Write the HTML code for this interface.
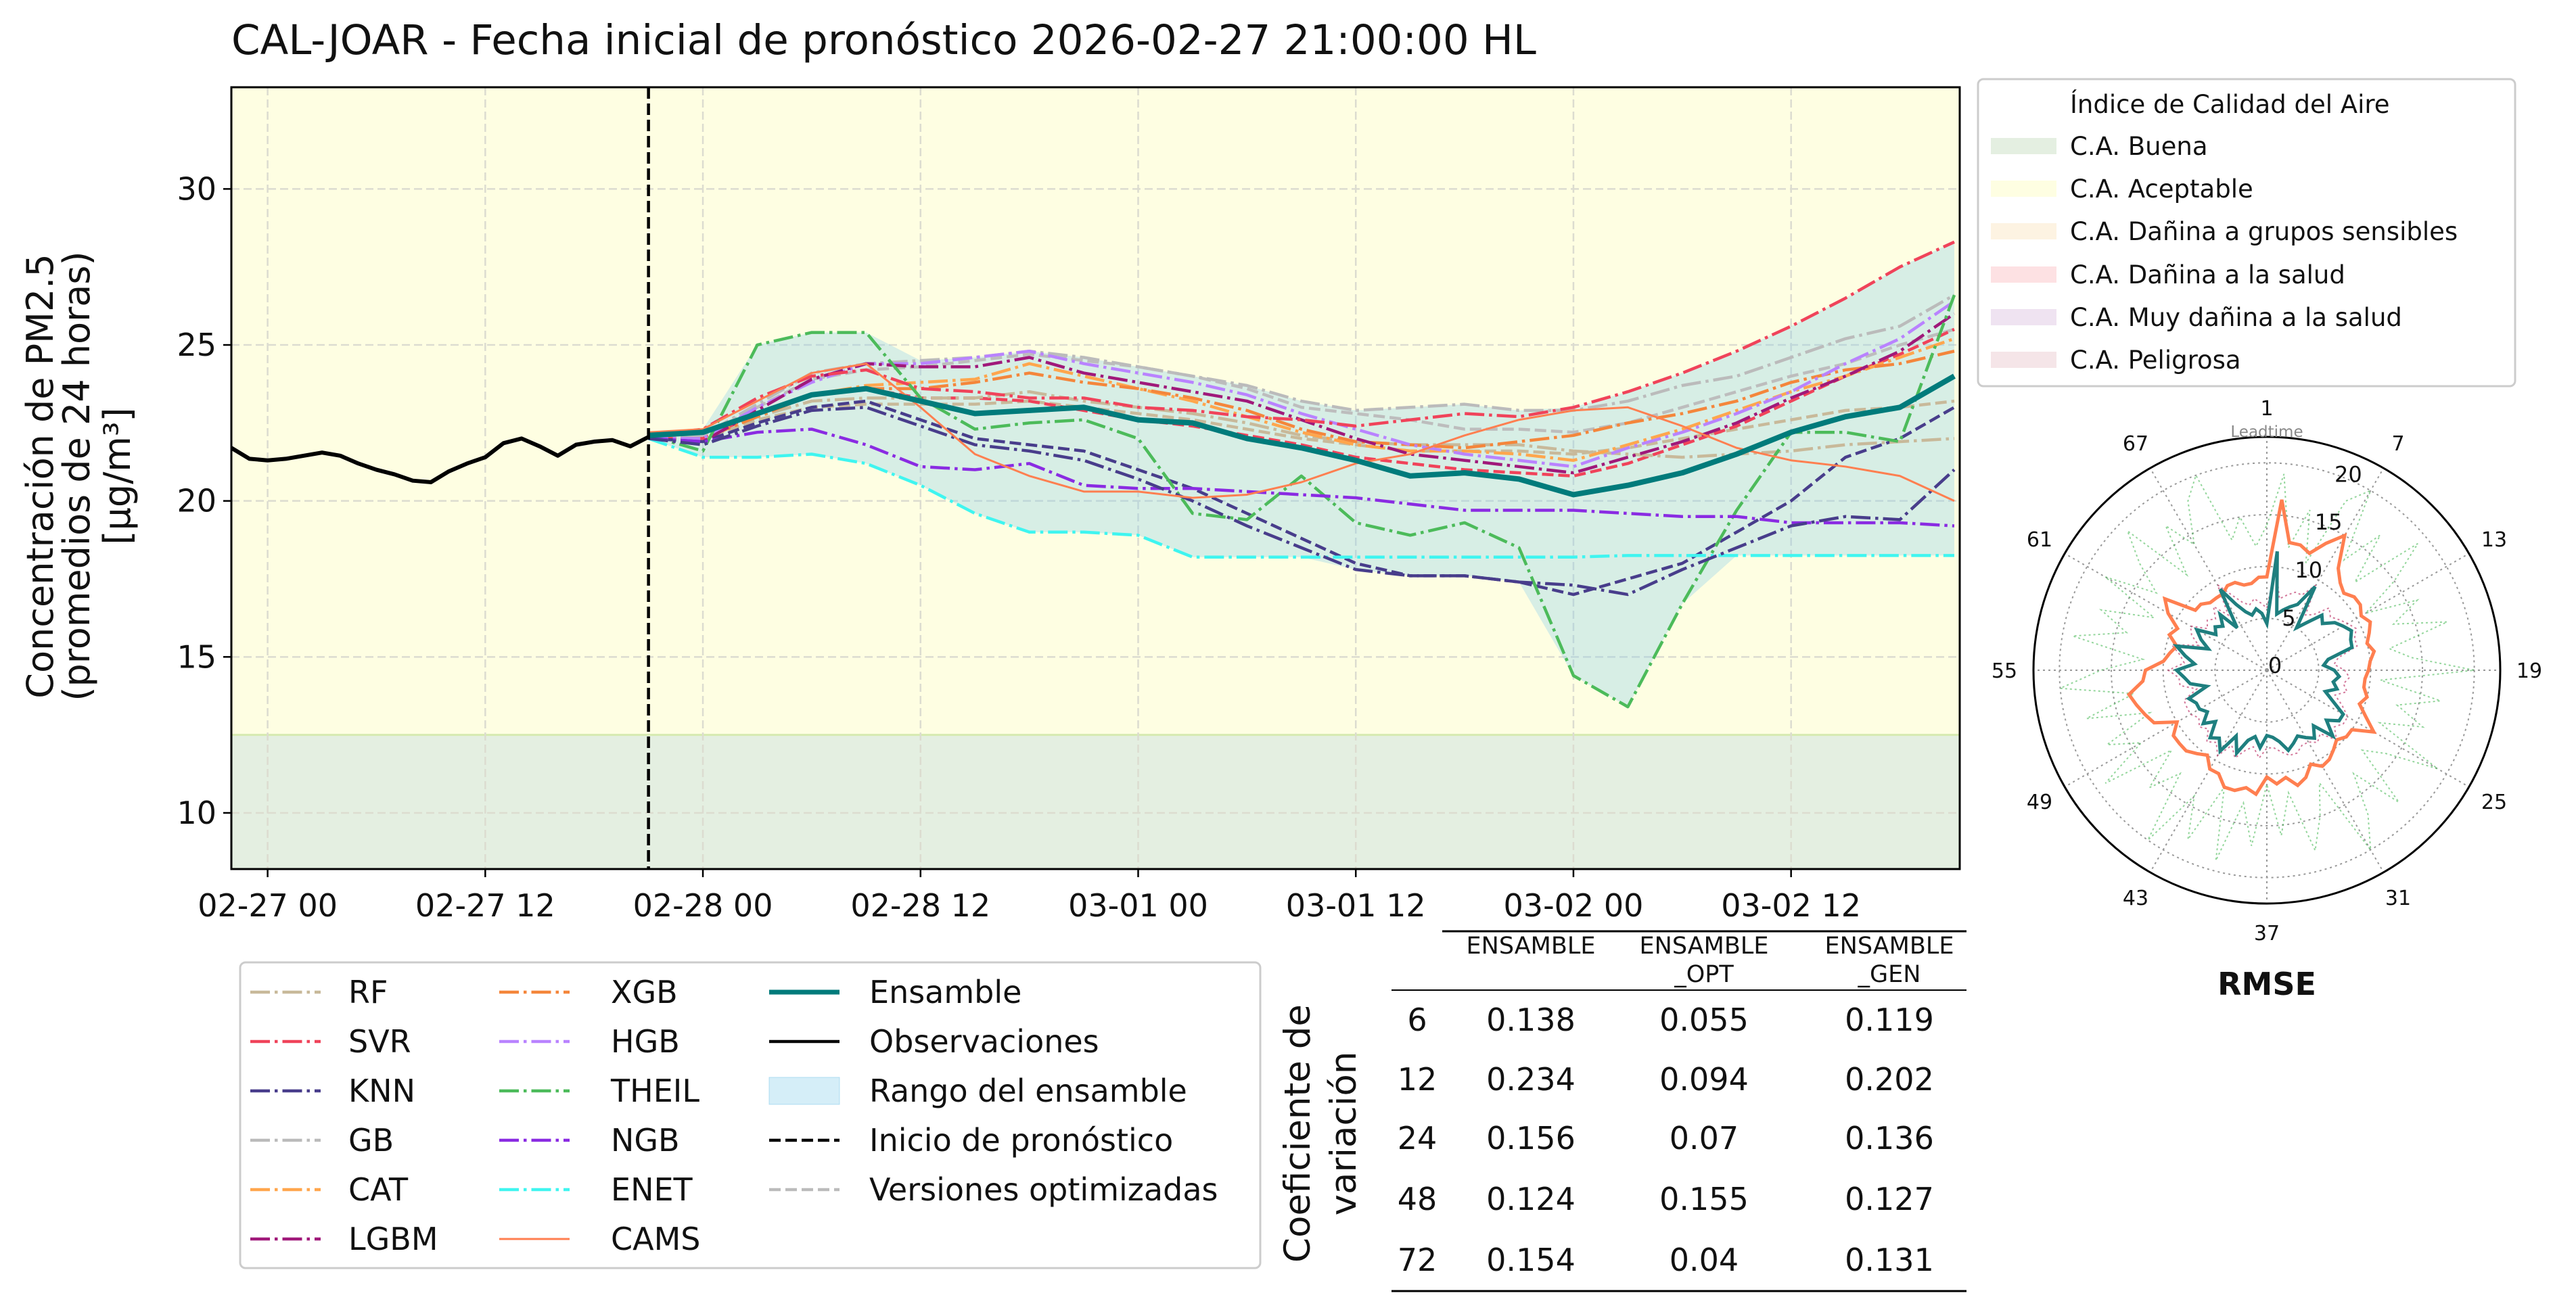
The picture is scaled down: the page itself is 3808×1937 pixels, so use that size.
<!DOCTYPE html>
<html><head><meta charset="utf-8"><style>
body{margin:0;background:#fff}
svg{display:block;font-family:"DejaVu Sans","Liberation Sans",sans-serif}
</style></head><body>
<svg id="fig" width="3808" height="1937" viewBox="0 0 3808 1937" xmlns="http://www.w3.org/2000/svg">
<rect width="3808" height="1937" fill="#fff"/>
<text x="342" y="80" font-size="61" fill="#111">CAL-JOAR - Fecha inicial de pronóstico 2026-02-27 21:00:00 HL</text>
<g id="main"></g>
<g font-size="54" text-anchor="middle" fill="#111">
<text transform="translate(78,704) rotate(-90)">Concentración de PM2.5</text>
<text transform="translate(132,704) rotate(-90)">(promedios de 24 horas)</text>
<text transform="translate(192,704) rotate(-90)">[μg/m³]</text>
</g>
<g id="leg"></g>
<g id="tbl"></g>
<g id="aqi"></g>
<g id="polar"></g>
</svg>
<script>
// ---- main chart data ----
const hours = [21,24,27,30,33,36,39,42,45,48,51,54,57,60,63,66,69,72,75,78,81,84,87,90,93];
const obsHours = [-2,-1,0,1,2,3,4,5,6,7,8,9,10,11,12,13,14,15,16,17,18,19,20,21];
const obsValues = [21.7,21.35,21.3,21.35,21.45,21.55,21.45,21.2,21.0,20.85,20.65,20.6,20.95,21.2,21.4,21.85,22.0,21.75,21.45,21.8,21.9,21.95,21.75,22.05];
const ensamble = [22.1,22.2,22.8,23.4,23.6,23.2,22.8,22.9,23.0,22.6,22.5,22.0,21.7,21.3,20.8,20.9,20.7,20.2,20.5,20.9,21.5,22.2,22.7,23.0,24.0];
const rf   = [22.0,22.0,22.7,23.2,23.3,23.3,23.3,23.5,23.2,23.0,22.8,22.5,22.1,21.9,21.8,21.8,21.8,21.6,21.5,21.4,21.5,21.6,21.8,21.9,22.0];
const svr  = [22.1,22.3,23.3,24.0,24.2,23.6,23.5,23.3,23.3,23.0,22.9,22.7,22.6,22.4,22.6,22.8,22.7,23.0,23.5,24.1,24.8,25.6,26.5,27.5,28.3];
const knn  = [22.0,21.8,22.4,22.9,23.0,22.4,21.8,21.6,21.3,20.7,20.0,19.2,18.5,17.8,17.6,17.6,17.4,17.3,17.0,17.8,18.5,19.2,19.5,19.4,21.0];
const gb   = [22.0,22.1,23.1,24.1,24.4,24.5,24.6,24.8,24.6,24.3,24.0,23.7,23.2,22.9,23.0,23.1,22.9,22.9,23.2,23.7,24.0,24.6,25.2,25.6,26.6];
const cat  = [22.0,22.0,22.8,23.4,23.7,23.8,23.9,24.4,24.0,23.6,23.2,22.7,22.2,21.8,21.6,21.6,21.5,21.3,21.8,22.3,22.9,23.5,24.0,24.6,25.2];
const lgbm = [22.0,21.9,22.9,23.9,24.4,24.3,24.3,24.6,24.1,23.8,23.5,23.2,22.6,22.0,21.5,21.3,21.1,20.9,21.4,21.9,22.5,23.3,24.0,24.8,26.0];
const xgb  = [22.0,22.0,22.7,23.4,23.6,23.6,23.8,24.1,23.8,23.6,23.3,22.9,22.3,21.9,21.8,21.7,21.9,22.1,22.5,22.8,23.2,23.8,24.2,24.4,24.8];
const hgb  = [22.0,22.0,23.0,23.8,24.4,24.4,24.6,24.8,24.4,24.1,23.8,23.4,22.8,22.3,21.8,21.5,21.3,21.1,21.7,22.2,22.8,23.5,24.4,25.2,26.4];
const theil= [22.1,21.6,25.0,25.4,25.4,23.3,22.3,22.5,22.6,22.0,19.6,19.4,20.8,19.3,18.9,19.3,18.5,14.4,13.4,16.7,19.7,22.2,22.2,21.9,26.6];
const ngb  = [22.0,21.9,22.2,22.3,21.8,21.1,21.0,21.2,20.5,20.4,20.4,20.3,20.2,20.1,19.9,19.7,19.7,19.7,19.6,19.5,19.5,19.3,19.3,19.3,19.2];
const enet = [22.0,21.4,21.4,21.5,21.2,20.5,19.6,19.0,19.0,18.9,18.2,18.2,18.2,18.2,18.2,18.2,18.2,18.2,18.25,18.25,18.25,18.25,18.25,18.25,18.25];
const cams = [22.2,22.3,23.2,24.1,24.4,23.0,21.5,20.8,20.3,20.3,20.1,20.2,20.6,21.2,21.5,22.1,22.6,22.9,23.0,22.4,21.7,21.3,21.1,20.8,20.0];
const gbOpt  = [22.0,22.1,23.0,23.9,24.2,24.3,24.5,24.7,24.5,24.3,24.0,23.6,23.0,22.8,22.6,22.3,22.3,22.2,22.5,23.0,23.5,24.0,24.4,25.0,25.5];
const svrOpt = [22.0,22.0,22.8,23.4,23.6,23.3,23.3,23.2,22.9,22.6,22.4,22.1,21.8,21.4,21.2,21.0,20.9,20.8,21.2,21.8,22.4,23.2,24.0,24.7,25.5];
const knnOpt = [22.0,21.9,22.5,23.0,23.2,22.6,22.0,21.8,21.6,21.0,20.4,19.6,18.8,18.0,17.6,17.6,17.4,17.0,17.5,18.0,19.0,20.0,21.4,22.0,23.0];
const rfOpt  = [22.0,22.0,22.6,23.0,23.1,23.1,23.1,23.2,23.0,22.8,22.6,22.3,22.0,21.8,21.6,21.6,21.6,21.5,21.7,22.0,22.3,22.6,22.9,23.0,23.2];
const xTickHours = [0,12,24,36,48,60,72,84];
const xTickLabels = ["02-27 00","02-27 12","02-28 00","02-28 12","03-01 00","03-01 12","03-02 00","03-02 12"];
const yTicks = [10,15,20,25,30];
const forecastStart = 21;
const buenaLimit = 12.5;

// table data
const cvLeads = [6,12,24,48,72];
const cvEns = ["0.138","0.234","0.156","0.124","0.154"];
const cvOpt = ["0.055","0.094","0.07","0.155","0.04"];
const cvGen = ["0.119","0.202","0.136","0.127","0.131"];

// polar RMSE data (leadtime 1..72)
const rmseEns = [4.5,11.5,5.5,6,6.5,7,9.3,5,6,7.5,7,8,8.5,9,8.6,8.5,6,5.5,6.5,7,6.5,7,6,7,8.5,8.5,7.5,9,7,8,7.5,7,7.5,8,7,6.5,6.3,7.5,6.5,7,8.5,7,9,8,8.5,7,8,7,7.5,7.5,8,6,7.5,8,8.7,7,8,9,6,7,7.8,6,6.5,6,7,5,9,7,6,5.5,6,5.5];
const rmseCams = [9,16.5,12.5,12.5,12,13.5,15,12,11,10.5,11,11,10.5,11,10.5,10,10.5,10,9.8,9.5,9.5,10,9.5,10.5,11.9,10,10,9.5,10,10.5,10.7,10,11,11.5,10.5,11,10.3,12,11.5,12,12,11,11,10,10.5,11,11,11,10,12,12.5,13,13.5,12,11.7,10,9.5,9,10,9.5,11,12,9,9,8.5,8.5,8.5,9,9,8.5,8.5,9];
const rmseTheil = [14,19,12,16,11,18,20,13,17,12,19,15,11,16,13,18,12,14,20,11,17,13,16,12,19,14,12,18,13,17,20,12,15,18,12,16,11,17,13,19,12,18,14,20,13,16,12,19,14,17,12,18,13,20,16,12,19,14,17,12,18,13,16,19,12,17,14,18,20,13,15,12];
const rmseSvr = [6,10,7,7.5,8,8,9.5,6.5,7,8.5,8,8.5,9,9.5,9,9,7,6.5,7.5,8,7.5,8,7,8,9,9,8.5,9.5,8,8.5,8,8,8.5,8.5,8,7.5,7.5,8.5,7.5,8,9,8,9.5,8.5,9,8,8.5,8,8.5,8.5,8.5,7,8.5,8.5,9.5,8,8.5,9.5,7,8,8.5,7,7.5,7,8,6.5,9.5,8,7,6.5,7,6.5];
const polarLabelLeads = [1,7,13,19,25,31,37,43,49,55,61,67];
const polarRings = [5,10,15,20];

const NS="http://www.w3.org/2000/svg";
function mk(tag,attrs,parent,txt){const e=document.createElementNS(NS,tag);for(const k in attrs)e.setAttribute(k,attrs[k]);if(txt!==undefined)e.textContent=txt;parent.appendChild(e);return e;}

const L=342,R=2897,T=129,B=1285;
const hMin=-2,hMax=93.3,vMin=8.2,vMax=33.26;
const X=h=>L+(h-hMin)/(hMax-hMin)*(R-L);
const Y=v=>B-(v-vMin)/(vMax-vMin)*(B-T);
const main=document.getElementById('main');

let bg=mk('rect',{x:L,y:T,width:R-L,height:Y(buenaLimit)-T,fill:'#fefee2'},main);


let bg2=mk('rect',{x:L,y:Y(buenaLimit),width:R-L,height:B-Y(buenaLimit),fill:'#e4efe1'},main);


mk('line',{x1:L,x2:R,y1:Y(buenaLimit),y2:Y(buenaLimit),stroke:'#d6eab0',"stroke-width":3},main);

xTickHours.forEach(h=>{mk('line',{x1:X(h),x2:X(h),y1:T,y2:B,stroke:'#dcdcd0',"stroke-width":2.5,"stroke-dasharray":"12,6"},main);});
yTicks.forEach(v=>{mk('line',{x1:L,x2:R,y1:Y(v),y2:Y(v),stroke:'#dcdcd0',"stroke-width":2.5,"stroke-dasharray":"12,6"},main);});

const allModels=[rf,svr,knn,gb,cat,lgbm,xgb,hgb,theil,ngb,enet,cams,gbOpt,svrOpt,knnOpt,rfOpt];
const upper=hours.map((h,i)=>Math.max(...allModels.map(s=>s[i])));
const lower=hours.map((h,i)=>Math.min(...allModels.map(s=>s[i])));
let pts=hours.map((h,i)=>X(h)+','+Y(upper[i])).concat(hours.slice().reverse().map((h,j)=>X(h)+','+Y(lower[hours.length-1-j])));
let band=mk('polygon',{points:pts.join(' '),fill:'rgba(135,206,235,0.32)'},main);



const DD="29,7,4.5,7", DA="17,7";
function series(arr,color,w,dash,name,xs){
  const xsArr=xs||hours;
  const p=mk('polyline',{points:xsArr.map((h,i)=>X(h)+','+Y(arr[i])).join(' '),fill:'none',stroke:color,"stroke-width":w,"stroke-linejoin":"round"},main);
  if(dash)p.setAttribute('stroke-dasharray',dash);
  
  
}
series(rfOpt,'#c8b99a',4.5,DA,'rf-opt-line');
series(gbOpt,'#bdbdbd',4.5,DA,'gb-opt-line');
series(svrOpt,'#f0435a',4.5,DA,'svr-opt-line');
series(knnOpt,'#483d8b',4.5,DA,'knn-opt-line');
series(rf,'#c8b99a',4.5,DD,'rf-line');
series(gb,'#bbbbbb',4.5,DD,'gb-line');
series(cat,'#ffa64d',4.5,DD,'cat-line');
series(xgb,'#f4863b',4.5,DD,'xgb-line');
series(hgb,'#b983ff',4.5,DD,'hgb-line');
series(lgbm,'#a0197a',4.5,DD,'lgbm-line');
series(svr,'#f0435a',4.5,DD,'svr-line');
series(theil,'#4cbb5a',4.5,DD,'theil-line');
series(ngb,'#8a2be2',4.5,DD,'ngb-line');
series(enet,'#3ff5f0',4.5,DD,'enet-line');
series(knn,'#483d8b',4.5,DD,'knn-line');
series(cams,'#ff7f50',3,null,'cams-line');
series(ensamble,'#007b7b',8,null,'ensemble-line');
series(obsValues,'#000',6,null,'observations-line',obsHours);

let fl=mk('line',{x1:X(forecastStart),x2:X(forecastStart),y1:T,y2:B,stroke:'#000',"stroke-width":4.5,"stroke-dasharray":"17,7"},main);


mk('rect',{x:L,y:T,width:R-L,height:B-T,fill:'none',stroke:'#000',"stroke-width":3},main);

xTickHours.forEach((h,i)=>{
  mk('line',{x1:X(h),x2:X(h),y1:B,y2:B+12,stroke:'#000',"stroke-width":2.5},main);
  const t=mk('text',{x:X(h),y:B+70,"font-size":46,"text-anchor":"middle",fill:'#111'},main,xTickLabels[i]);
  
  
});
yTicks.forEach(v=>{
  mk('line',{x1:L-12,x2:L,y1:Y(v),y2:Y(v),stroke:'#000',"stroke-width":2.5},main);
  const t=mk('text',{x:L-22,y:Y(v)+16,"font-size":46,"text-anchor":"end",fill:'#111'},main,v);
  
  
});

// ---- series legend ----
const leg=document.getElementById('leg');
mk('rect',{x:355,y:1423,width:1508,height:452,rx:8,fill:'#fff',stroke:'#ccc',"stroke-width":3},leg);
const rowsY=[1467,1540,1613,1686,1759,1832];
const legItems=[
 [370,515,'RF','#c8b99a',DD,4.5],[370,515,'SVR','#f0435a',DD,4.5],[370,515,'KNN','#483d8b',DD,4.5],[370,515,'GB','#bbbbbb',DD,4.5],[370,515,'CAT','#ffa64d',DD,4.5],[370,515,'LGBM','#a0197a',DD,4.5],
 [738,903,'XGB','#f4863b',DD,4.5],[738,903,'HGB','#b983ff',DD,4.5],[738,903,'THEIL','#4cbb5a',DD,4.5],[738,903,'NGB','#8a2be2',DD,4.5],[738,903,'ENET','#3ff5f0',DD,4.5],[738,903,'CAMS','#ff7f50',null,3],
 [1137,1285,'Ensamble','#007b7b',null,7],[1137,1285,'Observaciones','#000',null,4.5],[1137,1285,'Rango del ensamble','band',null,0],[1137,1285,'Inicio de pronóstico','#000',DA,4.5],[1137,1285,'Versiones optimizadas','#bbbbbb',DA,4.5]
];
legItems.forEach((it,i)=>{
  const y=rowsY[i<12?i%6:i-12];
  const g=mk('g',{},leg);
  
  
  if(it[3]==='band') mk('rect',{x:it[0],y:y-20,width:104,height:40,fill:'rgba(135,206,235,0.35)',stroke:'rgba(135,206,235,0.6)'},g);
  else {const l=mk('line',{x1:it[0],x2:it[0]+104,y1:y,y2:y,stroke:it[3],"stroke-width":it[5]},g); if(it[4])l.setAttribute('stroke-dasharray',it[4]);}
  mk('text',{x:it[1],y:y+16,"font-size":46,fill:'#111'},g,it[2]);
});

// ---- table ----
const tbl=document.getElementById('tbl');
mk('text',{transform:'translate(1936,1676) rotate(-90)',"font-size":53,"text-anchor":"middle",fill:'#111'},tbl,'Coeficiente de');
mk('text',{transform:'translate(2004,1676) rotate(-90)',"font-size":53,"text-anchor":"middle",fill:'#111'},tbl,'variación');
mk('line',{x1:2132,x2:2907,y1:1377,y2:1377,stroke:'#000',"stroke-width":3},tbl);
mk('line',{x1:2057,x2:2907,y1:1464,y2:1464,stroke:'#000',"stroke-width":2},tbl);
mk('line',{x1:2057,x2:2907,y1:1909,y2:1909,stroke:'#000',"stroke-width":3},tbl);
[[2263,'ENSAMBLE',''],[2519,'ENSAMBLE','_OPT'],[2793,'ENSAMBLE','_GEN']].forEach(h=>{
  mk('text',{x:h[0],y:1410,"font-size":35,"text-anchor":"middle",fill:'#111'},tbl,h[1]);
  if(h[2])mk('text',{x:h[0],y:1452,"font-size":35,"text-anchor":"middle",fill:'#111'},tbl,h[2]);
});
const rowY=[1508,1596,1683,1773,1863];
cvLeads.forEach((ld,i)=>{
  const g=mk('g',{"font-size":46,"text-anchor":"middle",fill:'#111'},tbl);
  
  
  mk('text',{x:2095,y:rowY[i]+16},g,ld);
  mk('text',{x:2263,y:rowY[i]+16},g,cvEns[i]);
  mk('text',{x:2519,y:rowY[i]+16},g,cvOpt[i]);
  mk('text',{x:2793,y:rowY[i]+16},g,cvGen[i]);
});

// ---- AQI legend ----
const aqi=document.getElementById('aqi');
mk('rect',{x:2924,y:117,width:794,height:454,rx:8,fill:'#fff',stroke:'#ccc',"stroke-width":3},aqi);
mk('text',{x:3060,y:167,"font-size":37,fill:'#111'},aqi,'Índice de Calidad del Aire');
const aqiNames=['C.A. Buena','C.A. Aceptable','C.A. Dañina a grupos sensibles','C.A. Dañina a la salud','C.A. Muy dañina a la salud','C.A. Peligrosa'];
const aqiColors=['#e4efe1','#fefee2','#fdf3e2','#fde1e3','#efe3f1','#f5e5e8'];
const aqiY=[216,279,342,406,469,532];
aqiNames.forEach((n,i)=>{
  const g=mk('g',{},aqi);
  
  
  mk('rect',{x:2943,y:aqiY[i]-12,width:97,height:24,fill:aqiColors[i]},g);
  mk('text',{x:3060,y:aqiY[i]+13,"font-size":37,fill:'#111'},g,n);
});

// ---- polar ----
const pol=document.getElementById('polar');
const cx=3351,cy=991,RAD=345,rMax=22.5;
const rr=v=>v/rMax*RAD;
const ang=lt=>(lt-1)*5*Math.PI/180;
polarRings.forEach(v=>mk('circle',{cx:cx,cy:cy,r:rr(v),fill:'none',stroke:'#999',"stroke-width":2,"stroke-dasharray":"3,5"},pol));
polarLabelLeads.forEach(lt=>{
  const a=ang(lt);
  mk('line',{x1:cx,y1:cy,x2:cx+RAD*Math.sin(a),y2:cy-RAD*Math.cos(a),stroke:'#999',"stroke-width":2,"stroke-dasharray":"3,5"},pol);
  const t=mk('text',{x:cx+388*Math.sin(a),y:cy-388*Math.cos(a)+11,"font-size":30,"text-anchor":"middle",fill:'#111'},pol,lt);
  
  
});
function polarSeries(arr,color,w,dash,name,op){
  const p=mk('polygon',{points:arr.map((v,i)=>{const a=ang(i+1);return (cx+rr(v)*Math.sin(a))+','+(cy-rr(v)*Math.cos(a));}).join(' '),fill:'none',stroke:color,"stroke-width":w,opacity:op},pol);
  if(dash)p.setAttribute('stroke-dasharray',dash);
  
  
}
polarSeries(rmseTheil,'#4cbb5a',2,'3,4','polar-theil',0.6);
polarSeries(rmseSvr,'#c04070',2,'3,4','polar-svr',0.7);
polarSeries(rmseCams,'#ff7f50',5,null,'polar-cams',1);
polarSeries(rmseEns,'#1f7f7f',5,null,'polar-ensemble',1);
polarRings.forEach(v=>{
  const a=22.5*Math.PI/180;
  mk('text',{x:cx+(rr(v)+8)*Math.sin(a),y:cy-(rr(v)+8)*Math.cos(a)+12,"font-size":32,"text-anchor":"middle",fill:'#111'},pol,v);
});
mk('text',{x:cx+12,y:cy+4,"font-size":32,"text-anchor":"middle",fill:'#111'},pol,'0');
mk('circle',{cx:cx,cy:cy,r:RAD,fill:'none',stroke:'#000',"stroke-width":3},pol);
mk('text',{x:cx,y:646,"font-size":23,"text-anchor":"middle",fill:'#888'},pol,'Leadtime');
mk('text',{x:cx,y:1471,"font-size":46,"font-weight":"bold","text-anchor":"middle",fill:'#111'},pol,'RMSE');
</script>
</body></html>
